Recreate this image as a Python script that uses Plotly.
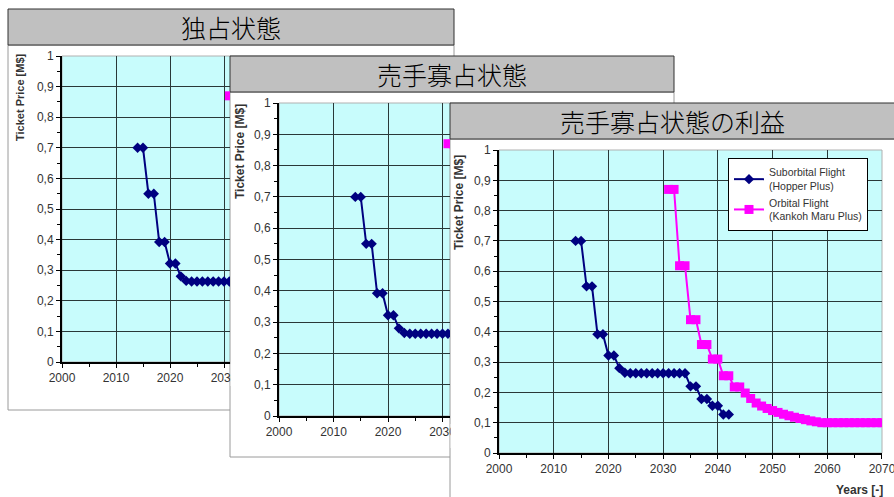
import plotly.graph_objects as go

W, H = 894, 497

# Ticket price projections [M$]
years_sub = list(range(2014, 2043))
price_sub = [0.70, 0.70, 0.55, 0.55, 0.392, 0.392, 0.322, 0.322, 0.28, 0.265,
             0.263, 0.263, 0.263, 0.263, 0.263, 0.263, 0.263, 0.263, 0.263, 0.263, 0.263,
             0.22, 0.22, 0.178, 0.178, 0.156, 0.156, 0.127, 0.127]

years_orb = list(range(2031, 2071))
price_orb = [0.87, 0.87, 0.618, 0.618, 0.44, 0.44, 0.358, 0.358, 0.31, 0.31,
             0.255, 0.255, 0.218, 0.218, 0.198, 0.18, 0.165, 0.155, 0.147, 0.14,
             0.134, 0.128, 0.123, 0.118, 0.114, 0.11, 0.106, 0.103, 0.10,
             0.10, 0.10, 0.10, 0.10, 0.10, 0.10, 0.10, 0.10, 0.10, 0.10, 0.10]

name_sub = "Suborbital Flight<br>(Hopper Plus)"
name_orb = "Orbital Flight<br>(Kankoh Maru Plus)"

panel_titles = ["独占状態", "売手寡占状態", "売手寡占状態の利益"]
y_ticks = [0, 0.1, 0.2, 0.3, 0.4, 0.5, 0.6, 0.7, 0.8, 0.9, 1]
x_ticks = [2000, 2010, 2020, 2030, 2040, 2050, 2060, 2070]
y_title = "Ticket Price [M$]"
x_title = "Years [-]"


def px(x):
    return x / W


def py(y):
    return 1 - y / H


# panel geometry in pixels: outer box, title-bar bottom, plot area, px per year
# (the first two panels are cut off where the next panel lies on top of them)
panels = [
    dict(box=(8, 9, 454, 410), bar=45, plot=(62, 56, 230, 362), full_right=440, ppy=5.4,
         title_x=231, ytc=97, ytx=20, yts=11),
    dict(box=(230, 56, 674, 457), bar=92, plot=(279, 103, 450, 416), full_right=660, ppy=5.45,
         title_x=452, ytc=152, ytx=240, yts=12),
    dict(box=(450, 103, 910, 520), bar=139, plot=(499, 150, 882, 453), full_right=882, ppy=(882 - 499) / 70,
         title_x=672, ytc=203, ytx=459, yts=12),
]

fig = go.Figure()
shapes = []
annotations = []
axis_font = dict(family="Liberation Sans, Arial", size=12, color="#333333")
grid_col = "#2a3838"

for i, p in enumerate(panels):
    k = "" if i == 0 else str(i + 1)
    x0, y0, x1, y1 = p["box"]
    # panel body
    shapes.append(dict(type="rect", xref="paper", yref="paper", layer="below",
                       x0=px(x0), x1=px(x1), y0=py(y1), y1=py(p["bar"]),
                       fillcolor="white", line=dict(color="#9a9a9a", width=1)))
    # plot background
    lx, ty, rx, by = p["plot"]
    shapes.append(dict(type="rect", xref="paper", yref="paper", layer="below",
                       x0=px(lx), x1=px(p["full_right"]), y0=py(by), y1=py(ty),
                       fillcolor="#c8fcfc", line=dict(color="#b0b0b0", width=1)))
    # title bar
    shapes.append(dict(type="rect", xref="paper", yref="paper", layer="below",
                       x0=px(x0), x1=px(x1), y0=py(p["bar"]), y1=py(y0),
                       fillcolor="#c0c0c0", line=dict(color="#303030", width=1)))
    annotations.append(dict(xref="paper", yref="paper", x=px(p["title_x"]),
                            y=py((y0 + p["bar"]) / 2), text=panel_titles[i], showarrow=False,
                            xanchor="center", yanchor="middle",
                            font=dict(family="Noto Sans CJK JP", size=25, color="black", weight=300)))
    annotations.append(dict(xref="paper", yref="paper", x=px(p["ytx"]), y=py(p["ytc"]),
                            text="<b>" + y_title + "</b>", textangle=-90, showarrow=False,
                            xanchor="center", yanchor="middle",
                            font=dict(family="Liberation Sans, Arial", size=p["yts"], color="#333333")))

    xmax = round(2000 + (rx - lx) / p["ppy"], 3) + 0.001
    fig.layout["xaxis" + k] = dict(
        domain=[px(lx), px(rx)], range=[2000, xmax], anchor="y" + k,
        tickvals=x_ticks, ticks="outside", ticklen=4, tickwidth=1, tickcolor="black",
        ticklabeloverflow="allow",
        showline=True, linecolor="black", linewidth=2,
        showgrid=True, gridcolor=grid_col, gridwidth=1, zeroline=False,
        minor=dict(dtick=5, tick0=2000, ticks="outside", ticklen=3, tickcolor="black", showgrid=False),
        tickfont=axis_font, fixedrange=True)
    fig.layout["yaxis" + k] = dict(
        domain=[py(by), py(ty)], range=[0, 1.0001], anchor="x" + k,
        tickvals=y_ticks, ticks="outside", ticklen=4, tickwidth=1, tickcolor="black",
        ticklabeloverflow="allow",
        showline=True, linecolor="black", linewidth=2,
        showgrid=True, gridcolor=grid_col, gridwidth=1, zeroline=False,
        minor=dict(dtick=0.05, tick0=0, ticks="outside", ticklen=3, tickcolor="black", showgrid=False),
        tickfont=axis_font, fixedrange=True)

    fig.add_trace(go.Scatter(x=years_sub, y=price_sub, name=name_sub, mode="lines+markers",
                             xaxis="x" + k, yaxis="y" + k, showlegend=(i == 2),
                             line=dict(color="#000080", width=2),
                             marker=dict(symbol="diamond", size=8, color="#000080")))
    fig.add_trace(go.Scatter(x=years_orb, y=price_orb, name=name_orb, mode="lines+markers",
                             xaxis="x" + k, yaxis="y" + k, showlegend=(i == 2),
                             line=dict(color="#ff00ff", width=2),
                             marker=dict(symbol="square", size=9, color="#ff00ff")))

# tick labels that run under the next panel
shapes.append(dict(type="rect", xref="paper", yref="paper", layer="above",
                   x0=px(230.6), x1=px(248), y0=py(386), y1=py(364),
                   fillcolor="white", line=dict(width=0)))
shapes.append(dict(type="rect", xref="paper", yref="paper", layer="above",
                   x0=px(450.6), x1=px(466), y0=py(448), y1=py(424),
                   fillcolor="white", line=dict(width=0)))

annotations.append(dict(xref="paper", yref="paper", x=px(885), y=py(490), text="<b>" + x_title + "</b>",
                        showarrow=False, xanchor="right", yanchor="middle",
                        font=dict(family="Liberation Sans, Arial", size=12, color="#333333")))

fig.update_layout(
    width=W, height=H, autosize=False,
    margin=dict(l=0, r=0, t=0, b=0, pad=0, autoexpand=False),
    paper_bgcolor="white", plot_bgcolor="rgba(0,0,0,0)",
    separators=",.",
    shapes=shapes, annotations=annotations,
    legend=dict(x=px(728), y=py(158), xanchor="left", yanchor="top",
                bgcolor="white", bordercolor="black", borderwidth=1,
                font=dict(family="Liberation Sans, Arial", size=10.5, color="#333333"),
                tracegroupgap=0, itemwidth=30),
)

fig.write_html("out.html")
